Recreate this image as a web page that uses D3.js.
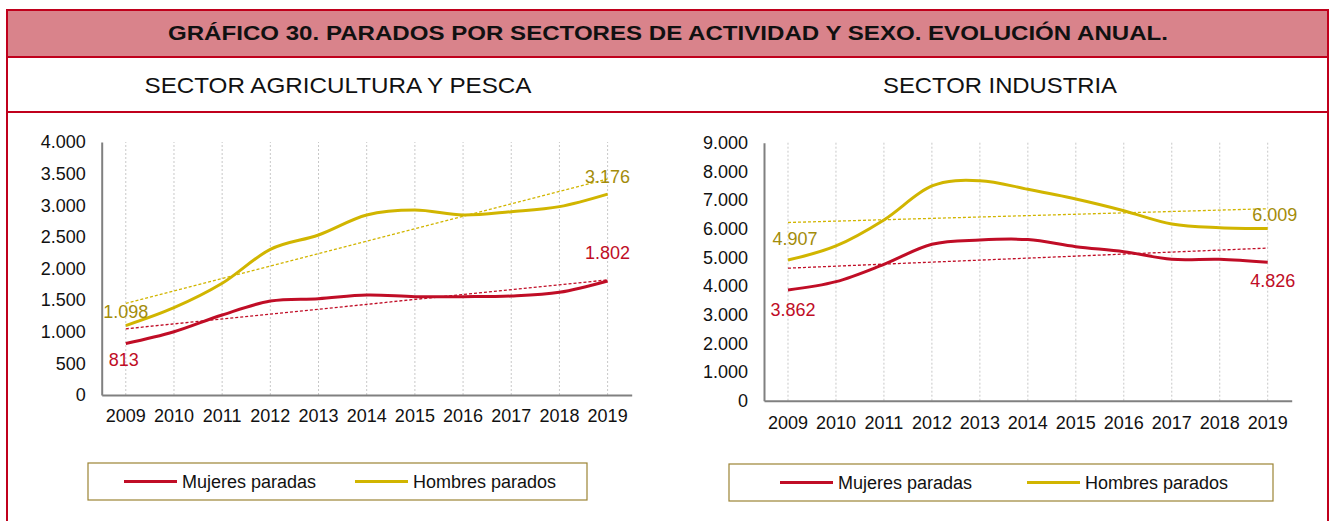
<!DOCTYPE html>
<html>
<head>
<meta charset="utf-8">
<script src="https://cdn.jsdelivr.net/npm/d3@7"></script>
<style>
  html, body { margin: 0; padding: 0; background: #fff; }
  svg { display: block; font-family: Arial, "Liberation Sans", sans-serif; }
</style>
</head>
<body>
<svg id="chart" width="1331" height="521"></svg>
<script>
// Years shown on both panels
const years = ["2009","2010","2011","2012","2013","2014","2015","2016","2017","2018","2019"];

// Agriculture & fishing: unemployed women / men
const agroMujeres = [813, 1000, 1265, 1486, 1523, 1581, 1555, 1555, 1565, 1623, 1802];
const agroHombres = [1098, 1380, 1766, 2303, 2530, 2846, 2925, 2846, 2899, 2978, 3176];
const agroTicks = [0, 500, 1000, 1500, 2000, 2500, 3000, 3500, 4000];

// Industry: unemployed women / men
const indMujeres = [3862, 4152, 4758, 5456, 5606, 5620, 5372, 5198, 4932, 4932, 4826];
const indHombres = [4907, 5397, 6304, 7490, 7676, 7374, 7036, 6628, 6164, 6036, 6009];
const indTicks = [0, 1000, 2000, 3000, 4000, 5000, 6000, 7000, 8000, 9000];

const seriesNames = ["Mujeres paradas", "Hombres parados"];
const title = "GRÁFICO 30. PARADOS POR SECTORES DE ACTIVIDAD Y SEXO. EVOLUCIÓN ANUAL.";
const panelTitles = ["SECTOR AGRICULTURA Y PESCA", "SECTOR INDUSTRIA"];

const RED = "#c00d26";
const GOLD = "#d1b500";
const GOLD_LABEL = "#a38c0a";
const FRAME = "#c0001c";
const FONT = "Arial, 'Liberation Sans', sans-serif";

const svg = d3.select("#chart");
const fmt = v => d3.format(",")(v).replace(/,/g, ".");

// ---- frame and header ----
svg.append("rect").attr("x", 7).attr("y", 10).attr("width", 1321).attr("height", 47)
  .attr("fill", "#d9838b");
[10, 57, 112].forEach(yy => {
  svg.append("line").attr("x1", 7).attr("x2", 1328).attr("y1", yy).attr("y2", yy)
    .attr("stroke", FRAME).attr("stroke-width", 2);
});
[7, 1328].forEach(xx => {
  svg.append("line").attr("x1", xx).attr("x2", xx).attr("y1", 9).attr("y2", 521)
    .attr("stroke", FRAME).attr("stroke-width", 2);
});

svg.append("text").attr("x", 668).attr("y", 40).attr("text-anchor", "middle")
  .attr("font-size", 20).attr("font-weight", "bold").attr("fill", "#111")
  .attr("textLength", 1000).attr("lengthAdjust", "spacingAndGlyphs")
  .text(title);

// Least-squares trend over the category index
function trend(values) {
  const n = values.length;
  const mx = (n - 1) / 2;
  const my = d3.mean(values);
  let sxy = 0, sxx = 0;
  values.forEach((v, i) => { sxy += (i - mx) * (v - my); sxx += (i - mx) * (i - mx); });
  const b = sxy / sxx, a = my - b * mx;
  return [a, a + b * (n - 1)];
}

function panel(opt) {
  const g = svg.append("g");
  g.append("text").attr("x", opt.titleX).attr("y", 93).attr("text-anchor", "middle")
    .attr("font-size", 22).attr("fill", "#111")
    .attr("textLength", opt.titleW).attr("lengthAdjust", "spacingAndGlyphs")
    .text(opt.title);

  const x = d3.scaleBand().domain(years).range([opt.left, opt.right]);
  const cx = d => x(d) + x.bandwidth() / 2;
  const y = d3.scaleLinear().domain([0, opt.max]).range([opt.bottom, opt.top]);

  // vertical dotted gridlines
  g.append("g").selectAll("line").data(years).join("line")
    .attr("x1", cx).attr("x2", cx).attr("y1", opt.bottom).attr("y2", opt.top)
    .attr("stroke", "#c8c8c8").attr("stroke-width", 1).attr("stroke-dasharray", "2,2");

  // y axis
  const ya = g.append("g").attr("transform", `translate(${opt.left},0)`)
    .call(d3.axisLeft(y).tickValues(opt.ticks).tickFormat(fmt).tickSize(0).tickPadding(16));
  ya.select(".domain").attr("stroke", "#808080").attr("stroke-width", 2);
  ya.selectAll("text").attr("font-size", 18).attr("fill", "#111").attr("font-family", FONT);

  // x axis
  const xa = g.append("g").attr("transform", `translate(0,${opt.bottom})`)
    .call(d3.axisBottom(x).tickSize(0).tickPadding(opt.xPad));
  xa.select(".domain").attr("stroke", "#808080").attr("stroke-width", 2);
  xa.selectAll("text").attr("font-size", 18).attr("fill", "#111").attr("font-family", FONT);

  const line = d3.line().x((d, i) => cx(years[i])).y(d => y(d))
    .curve(d3.curveCardinal.tension(0));

  const series = [
    { values: opt.mujeres, color: RED, label: RED, pos: opt.mPos },
    { values: opt.hombres, color: GOLD, label: GOLD_LABEL, pos: opt.hPos }
  ];

  // dashed linear trends
  series.forEach(s => {
    const t = trend(s.values);
    g.append("line")
      .attr("x1", cx(years[0])).attr("y1", y(t[0]))
      .attr("x2", cx(years[years.length - 1])).attr("y2", y(t[1]))
      .attr("stroke", s.color).attr("stroke-width", 1.3).attr("stroke-dasharray", "3,2");
  });

  // smoothed series
  series.forEach(s => {
    g.append("path").datum(s.values).attr("d", line)
      .attr("fill", "none").attr("stroke", s.color).attr("stroke-width", 3);
  });

  // first / last value labels
  series.forEach(s => {
    [0, years.length - 1].forEach((i, k) => {
      const p = s.pos[k];
      g.append("text")
        .attr("x", cx(years[i]) + p[0]).attr("y", y(s.values[i]) + p[1])
        .attr("text-anchor", "middle").attr("font-size", 18).attr("fill", s.label)
        .text(fmt(s.values[i]));
    });
  });

  // legend
  const lg = g.append("g");
  lg.append("rect").attr("x", opt.legX).attr("y", opt.legY)
    .attr("width", opt.legW).attr("height", 37)
    .attr("fill", "#fff").attr("stroke", "#9c8434").attr("stroke-width", 1.2);
  const items = [
    { name: seriesNames[0], color: RED, x: opt.legX + opt.legItems[0] },
    { name: seriesNames[1], color: GOLD, x: opt.legX + opt.legItems[1] }
  ];
  items.forEach(it => {
    lg.append("line").attr("x1", it.x).attr("x2", it.x + 53)
      .attr("y1", opt.legY + 18.5).attr("y2", opt.legY + 18.5)
      .attr("stroke", it.color).attr("stroke-width", 3);
    lg.append("text").attr("x", it.x + 58).attr("y", opt.legY + 25)
      .attr("font-size", 18).attr("fill", "#111").text(it.name);
  });
}

panel({
  title: panelTitles[0], titleX: 338, titleW: 387,
  left: 101.7, right: 631.7, top: 142, bottom: 395, max: 4000, ticks: agroTicks, xPad: 14,
  mujeres: agroMujeres, hombres: agroHombres,
  mPos: [[-2, 22], [0, -22]], hPos: [[0, -8], [0, -11]],
  legX: 88, legY: 463, legW: 499, legItems: [36, 267]
});

panel({
  title: panelTitles[1], titleX: 1000, titleW: 234,
  left: 764, right: 1291.7, top: 142.7, bottom: 400.7, max: 9000, ticks: indTicks, xPad: 16,
  mujeres: indMujeres, hombres: indHombres,
  mPos: [[5, 26], [5, 25]], hPos: [[7, -15], [7, -7]],
  legX: 729, legY: 464, legW: 544, legItems: [51, 298]
});
</script>
</body>
</html>
